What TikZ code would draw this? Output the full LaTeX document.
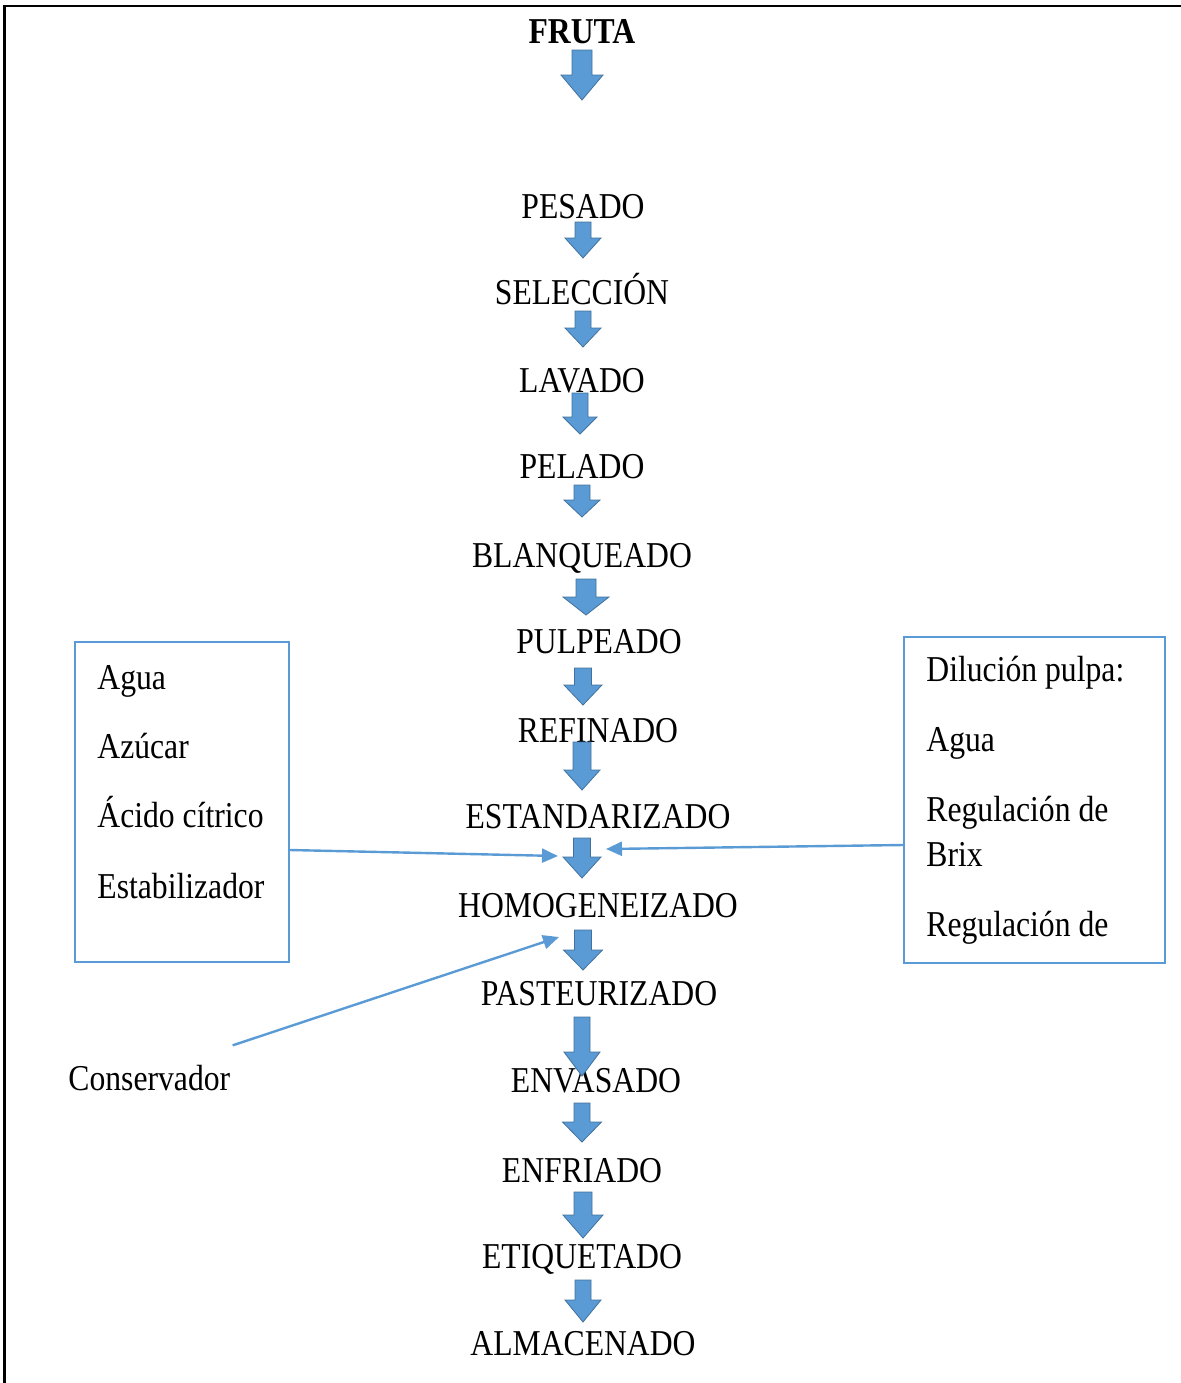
\documentclass[tikz,border=0pt]{standalone}
\usepackage{fontspec}
\setmainfont{Liberation Serif}[FakeStretch=0.87]
\usetikzlibrary{calc}
\usetikzlibrary{arrows.meta}

\definecolor{pasoazul}{HTML}{5B9BD5}
\definecolor{pasoborde}{HTML}{41719C}

% flecha de bloque: x, arriba, cuello, punta, medio fuste, media cabeza
\newcommand{\flecha}[6]{%
  \draw[bloque] (#1-#5,#2) -- (#1+#5,#2) -- (#1+#5,#3) -- (#1+#6,#3)
    -- (#1,#4) -- (#1-#6,#3) -- (#1-#5,#3) -- cycle;}

\begin{document}
\begin{tikzpicture}[x=0.5pt,y=-0.5pt,
    paso/.style={anchor=base,inner sep=0pt,font=\fontsize{18.2}{22}\selectfont},
    item/.style={anchor=base west,inner sep=0pt,font=\fontsize{18.2}{22}\selectfont},
    caja/.style={draw=pasoazul,line width=0.9pt,inner sep=0pt},
    bloque/.style={fill=pasoazul,draw=pasoborde,line width=0.4pt},
    entra/.style={draw=pasoazul,line width=1.2pt,-{Triangle[length=8pt,width=7pt]}}]

  \useasboundingbox (0,0) rectangle (1181,1383);
  \draw[line width=1.3pt] (4.5,1383) -- (4.5,6) -- (1181,6);

  \node[paso,font=\fontsize{18.2}{22}\selectfont\bfseries] (fruta) at (582,43) {FRUTA};
  \node[paso] (pesado) at (583,218) {PESADO};
  \node[paso] (seleccion) at (582,304) {SELECCIÓN};
  \node[paso] (lavado) at (582,392) {LAVADO};
  \node[paso] (pelado) at (582,478) {PELADO};
  \node[paso] (blanqueado) at (582,567) {BLANQUEADO};
  \node[paso] (pulpeado) at (599,653) {PULPEADO};
  \node[paso] (refinado) at (598,742) {REFINADO};
  \node[paso] (estandarizado) at (598,828) {ESTANDARIZADO};
  \node[paso] (homogeneizado) at (598,917) {HOMOGENEIZADO};
  \node[paso] (pasteurizado) at (599,1005) {PASTEURIZADO};
  \node[paso] (envasado) at (596,1092) {ENVASADO};
  \node[paso] (enfriado) at (582,1182) {ENFRIADO};
  \node[paso] (etiquetado) at (582,1268) {ETIQUETADO};
  \node[paso] (almacenado) at (583,1355) {ALMACENADO};

  \flecha{582}{50}{75}{100}{10}{21}
  \flecha{583}{222}{238}{258}{8}{18}
  \flecha{583}{311}{328}{347}{8}{18}
  \flecha{580}{393}{417}{434}{8}{17}
  \flecha{582}{485}{500}{517}{8}{18}
  \flecha{586}{579}{597}{615}{10}{23}
  \flecha{583}{668}{685}{705}{8.5}{19}
  \flecha{582}{742}{770}{790}{9}{18}
  \flecha{582}{838}{857}{878}{8.5}{19}
  \flecha{583}{930}{950}{970}{8.5}{19.5}
  \flecha{582}{1017}{1052}{1076}{8}{18}
  \flecha{582}{1103}{1122}{1142}{8}{19.5}
  \flecha{583}{1192}{1215}{1238}{9}{20}
  \flecha{583}{1280}{1300}{1322}{8}{18}

  % caja izquierda
  \node[caja,minimum width=107pt,minimum height=160pt] (ingredientes) at (182,802) {};
  \node[item] (agua) at (97,689) {Agua};
  \node[item] (azucar) at (97,758) {Azúcar};
  \node[item] (acido) at (97,827) {Ácido cítrico};
  \node[item] (estabilizador) at (97,898) {Estabilizador};

  % caja derecha
  \node[caja,minimum width=130.5pt,minimum height=163pt] (dilucion) at (1034.5,800) {};
  \node[item] (dilpulpa) at (926,681) {Dilución pulpa:};
  \node[item] (agua2) at (926,751) {Agua};
  \node[item] (regbrix) at (926,821) {Regulación de};
  \node[item] (brix) at (926,866) {Brix};
  \node[item] (regdos) at (926,936) {Regulación de};

  \node[item] (conservador) at (68,1090) {Conservador};

  \coordinate (entraizq) at (558,856);
  \coordinate (entrader) at (606,849);
  \coordinate (entracons) at (559,937);

  \draw[entra] ($ (ingredientes.east)+(0,48) $) -- (entraizq);
  \draw[entra] ($ (dilucion.west)+(0,45) $) -- (entrader);
  \draw[entra] ($ (conservador.north east)+(2,-19) $) -- (entracons);

\end{tikzpicture}
\end{document}
